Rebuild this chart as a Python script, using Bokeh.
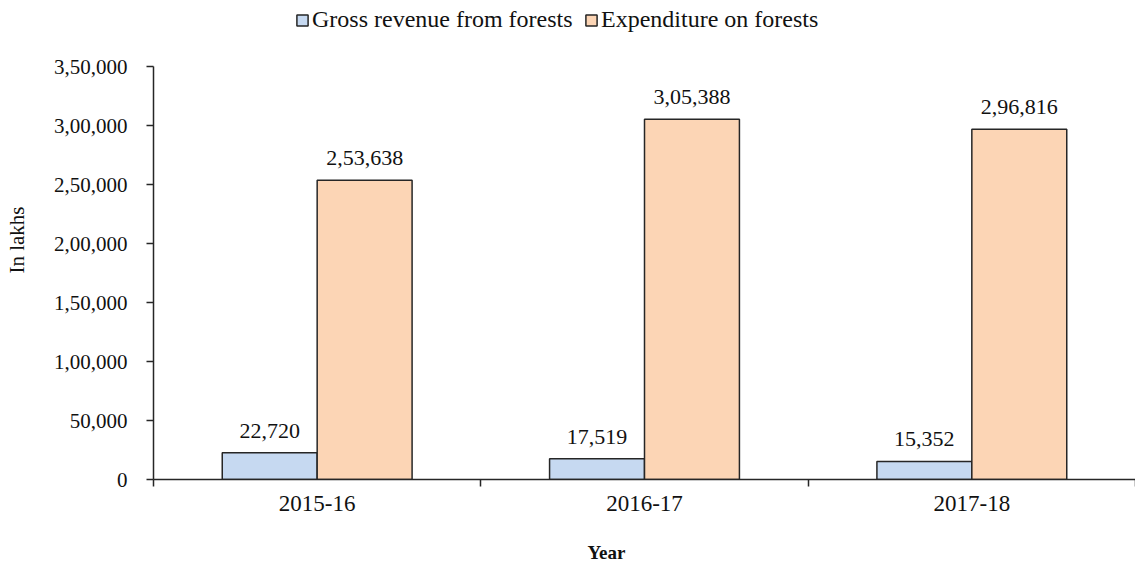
from bokeh.plotting import figure
from bokeh.models import (ColumnDataSource, FixedTicker, Range1d, Legend, LegendItem)
from bokeh.transform import dodge
from bokeh.core.properties import value
from bokeh.embed import file_html
from bokeh.resources import INLINE

years = ["2015-16", "2016-17", "2017-18"]
gross_revenue = [22720, 17519, 15352]
expenditure = [253638, 305388, 296816]
y_ticks = [0, 50000, 100000, 150000, 200000, 250000, 300000, 350000]
y_tick_labels = ["0", "50,000", "1,00,000", "1,50,000", "2,00,000", "2,50,000", "3,00,000", "3,50,000"]
series_names = ["Gross revenue from forests", "Expenditure on forests"]


def indian(n):
    s = str(int(n))
    if len(s) <= 3:
        return s
    last3 = s[-3:]
    rest = s[:-3]
    parts = []
    while len(rest) > 2:
        parts.insert(0, rest[-2:])
        rest = rest[:-2]
    if rest:
        parts.insert(0, rest)
    return ",".join(parts) + "," + last3


FONT = "Liberation Serif"
W, H = 1135, 569
LEFT, BOTTOM = 153, 90
AXIS_TOP_PX = 66          # pixel row of the top y tick
frame_h = H - BOTTOM
y_top = y_ticks[-1] * frame_h / (frame_h - AXIS_TOP_PX)

xs = [i + 0.5 for i in range(len(years))]
src = ColumnDataSource(dict(
    x=xs, rev=gross_revenue, exp=expenditure,
    rev_lbl=[indian(v) for v in gross_revenue],
    exp_lbl=[indian(v) for v in expenditure],
))

p = figure(width=W, height=H, output_backend="svg", toolbar_location=None,
           x_range=Range1d(0, len(years)), y_range=Range1d(0, y_top),
           min_border_left=LEFT, min_border_right=0, min_border_top=0, min_border_bottom=BOTTOM)
p.outline_line_color = None
p.grid.visible = False

bw = 0.29
r1 = p.vbar(x=dodge("x", -bw / 2, range=p.x_range), top="rev", width=bw, source=src,
            fill_color="#c6d9f1", line_color="#262626", line_width=1.5)
r2 = p.vbar(x=dodge("x", bw / 2, range=p.x_range), top="exp", width=bw, source=src,
            fill_color="#fcd5b5", line_color="#262626", line_width=1.5)

for col, lbl, off in (("rev", "rev_lbl", -bw / 2), ("exp", "exp_lbl", bw / 2)):
    p.text(x=dodge("x", off, range=p.x_range), y=col, text=lbl, source=src,
           text_font=value(FONT), text_font_size="22px", text_align="center",
           text_baseline="bottom", y_offset=-15, text_color="#111111")

# x axis
xa = p.xaxis[0]
xa.ticker = FixedTicker(ticks=xs, minor_ticks=[0, 1, 2, 3])
xa.major_label_overrides = {x: y for x, y in zip(xs, years)}
xa.major_tick_line_color = None
xa.minor_tick_line_color = "#262626"
xa.minor_tick_in = 0
xa.minor_tick_out = 7
xa.minor_tick_line_width = 1.5
xa.axis_line_color = "#262626"
xa.axis_line_width = 1.5
xa.major_label_text_font = FONT
xa.major_label_text_font_size = "23px"
xa.major_label_text_color = "#111111"
xa.major_label_standoff = 9
xa.axis_label = "Year" + "\u00a0" * 16
xa.axis_label_text_font = FONT
xa.axis_label_text_font_size = "19px"
xa.axis_label_text_font_style = "bold"
xa.axis_label_text_color = "#111111"
xa.axis_label_standoff = 28

# y axis
ya = p.yaxis[0]
ya.ticker = FixedTicker(ticks=y_ticks)
ya.bounds = (y_ticks[0], y_ticks[-1])
ya.major_label_overrides = {t: l for t, l in zip(y_ticks, y_tick_labels)}
ya.minor_tick_line_color = None
ya.major_tick_in = 0
ya.major_tick_out = 7
ya.major_tick_line_color = "#262626"
ya.major_tick_line_width = 1.5
ya.axis_line_color = "#262626"
ya.axis_line_width = 1.5
ya.major_label_text_font = FONT
ya.major_label_text_font_size = "21px"
ya.major_label_text_color = "#111111"
ya.major_label_standoff = 19
ya.axis_label = "In lakhs"
ya.axis_label_text_font = FONT
ya.axis_label_text_font_size = "21px"
ya.axis_label_text_font_style = "normal"
ya.axis_label_text_color = "#111111"
ya.axis_label_standoff = 22

legend_x = [142, 431]
for name, r, lx in zip(series_names, (r1, r2), legend_x):
    lg = Legend(items=[LegendItem(label=name, renderers=[r])],
                orientation="horizontal", location=(lx, 446),
                glyph_width=14, glyph_height=14, label_standoff=3,
                padding=0, margin=0, border_line_color=None, background_fill_alpha=0,
                label_text_font=FONT, label_text_font_size="24px", label_text_color="#111111")
    p.add_layout(lg, "center")

open("out.html", "w").write(file_html(p, INLINE))
